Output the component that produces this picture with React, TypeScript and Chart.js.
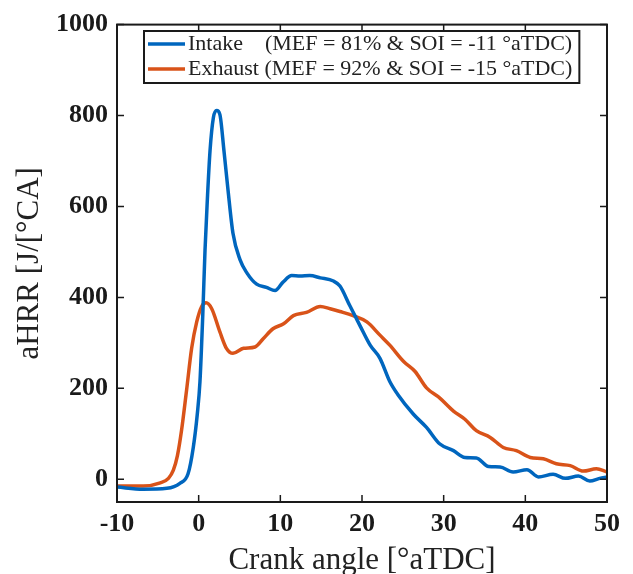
import { useEffect, useRef } from 'react';
import { Chart, registerables } from 'chart.js';

Chart.register(...registerables);

const SERIES_NAMES = [
  'Intake    (MEF = 81% & SOI = -11 °aTDC)',
  'Exhaust (MEF = 92% & SOI = -15 °aTDC)',
];
const SERIES_COLORS = ['#0066BE', '#D95319'];

const INTAKE_X = [-10, -6.8, -3.9, -2.3, -1.3, -0.66, -0.17, 0.16, 0.5, 0.78, 1.06, 1.39, 1.8, 2.2, 2.6, 3.1, 3.6, 4.2, 5.06, 5.9, 7.1, 8.3, 9.35, 10.3, 11.4, 12.4, 13.6, 14.9, 16.5, 17.3, 18.5, 19.75, 21.0, 22.2, 23.4, 24.4, 26.3, 27.9, 29.5, 31.2, 32.6, 34.0, 35.5, 36.9, 38.5, 40.2, 41.6, 43.4, 44.9, 46.5, 47.9, 49.1, 50];
const INTAKE_Y = [-17, -22, -20, -9, 12, 70, 143, 215, 360, 505, 614, 722, 795, 811, 802, 722, 635, 541, 483, 454, 429, 422, 415, 433, 448, 447, 448, 443, 436, 425, 382, 338, 295, 266, 215, 186, 143, 114, 78, 63, 48, 47, 28, 27, 16, 21, 5, 11, 2, 7, -4, 2, 5];

const EXHAUST_X = [-10, -6.8, -4.7, -3.7, -3.1, -2.6, -2.1, -1.5, -0.86, -0.24, 0.37, 0.9, 1.6, 2.6, 3.4, 4.2, 5.5, 6.9, 7.9, 9.1, 10.4, 11.6, 13.2, 14.9, 16.1, 17.3, 18.9, 20.6, 22.2, 23.4, 25.1, 26.5, 27.9, 29.5, 31.2, 32.6, 34.0, 35.7, 37.3, 38.9, 40.6, 42.2, 43.8, 45.5, 47.1, 48.7, 50];
const EXHAUST_Y = [-15, -15, -8, 2, 20, 52, 107, 193, 288, 346, 380, 388, 375, 324, 288, 277, 288, 291, 309, 331, 342, 360, 367, 380, 375, 369, 360, 346, 317, 295, 259, 237, 201, 179, 150, 132, 107, 92, 70, 63, 48, 45, 34, 30, 18, 23, 16];

const X_TICKS = [-10, 0, 10, 20, 30, 40, 50];
const Y_TICKS = [0, 200, 400, 600, 800, 1000];
const X_RANGE = [-10, 50];
const Y_RANGE = [-50, 1000];
const X_TITLE = 'Crank angle [°aTDC]';
const Y_TITLE = 'aHRR [J/[°CA]';

const FONT = "'Liberation Serif', 'Times New Roman', serif";

const frameAndLegend = {
  id: 'frameAndLegend',
  afterDraw(chart: any) {
    const { ctx, chartArea: a, scales } = chart;
    const xs = scales.x;
    const ys = scales.y;
    ctx.save();
    ctx.strokeStyle = '#1a1a1a';
    ctx.lineWidth = 1.5;
    const tl = 7;
    ctx.beginPath();
    X_TICKS.forEach((v) => {
      const px = xs.getPixelForValue(v);
      ctx.moveTo(px, a.bottom);
      ctx.lineTo(px, a.bottom - tl);
      ctx.moveTo(px, a.top);
      ctx.lineTo(px, a.top + tl);
    });
    Y_TICKS.forEach((v) => {
      const py = ys.getPixelForValue(v);
      ctx.moveTo(a.left, py);
      ctx.lineTo(a.left + tl, py);
      ctx.moveTo(a.right, py);
      ctx.lineTo(a.right - tl, py);
    });
    ctx.stroke();
    ctx.lineWidth = 2;
    ctx.strokeRect(a.left, a.top, a.right - a.left, a.bottom - a.top);

    ctx.font = `22px ${FONT}`;
    const textX = 188;
    const rowsY = [44, 69];
    let maxW = 0;
    SERIES_NAMES.forEach((n) => {
      maxW = Math.max(maxW, ctx.measureText(n).width);
    });
    const boxL = 144;
    const boxR = textX + maxW + 7;
    const boxT = 31;
    const boxB = 83;
    ctx.fillStyle = '#ffffff';
    ctx.fillRect(boxL, boxT, boxR - boxL, boxB - boxT);
    ctx.lineWidth = 2;
    ctx.strokeStyle = '#1a1a1a';
    ctx.strokeRect(boxL, boxT, boxR - boxL, boxB - boxT);
    SERIES_NAMES.forEach((n, i) => {
      ctx.strokeStyle = SERIES_COLORS[i];
      ctx.lineWidth = 3.5;
      ctx.beginPath();
      ctx.moveTo(148, rowsY[i]);
      ctx.lineTo(185, rowsY[i]);
      ctx.stroke();
      ctx.fillStyle = '#222222';
      ctx.textBaseline = 'middle';
      ctx.textAlign = 'left';
      ctx.fillText(n, textX, rowsY[i]);
    });
    ctx.restore();
  },
};

export default function App() {
  const ref = useRef<HTMLCanvasElement | null>(null);
  useEffect(() => {
    if (!ref.current) return;
    const mk = (xa: number[], ya: number[]) => xa.map((x, i) => ({ x, y: ya[i] }));
    const chart = new Chart(ref.current, {
      type: 'line',
      data: {
        datasets: [
          {
            label: SERIES_NAMES[0],
            data: mk(INTAKE_X, INTAKE_Y),
            borderColor: SERIES_COLORS[0],
            borderWidth: 3.5,
            pointRadius: 0,
            cubicInterpolationMode: 'monotone',
            fill: false,
          },
          {
            label: SERIES_NAMES[1],
            data: mk(EXHAUST_X, EXHAUST_Y),
            borderColor: SERIES_COLORS[1],
            borderWidth: 3.5,
            pointRadius: 0,
            cubicInterpolationMode: 'monotone',
            fill: false,
          },
        ],
      },
      options: {
        animation: false,
        responsive: false,
        maintainAspectRatio: false,
        layout: { padding: { top: 18, right: 26, left: 0, bottom: 0 } },
        plugins: { legend: { display: false }, tooltip: { enabled: false } },
        scales: {
          x: {
            type: 'linear',
            min: X_RANGE[0],
            max: X_RANGE[1],
            afterFit: (s: any) => { s.height = 72; },
            afterBuildTicks: (s: any) => { s.ticks = X_TICKS.map((v) => ({ value: v })); },
            grid: { display: false, drawTicks: false },
            border: { display: false },
            ticks: {
              padding: 7,
              color: '#1a1a1a',
              maxRotation: 0,
              autoSkip: false,
              callback: (v: any) => String(v),
              font: { family: FONT, size: 26, weight: 'bold' },
            },
            title: {
              display: true,
              text: X_TITLE,
              color: '#222222',
              font: { family: FONT, size: 31, lineHeight: 1 },
              padding: { top: 0, bottom: -2 },
            },
          },
          y: {
            type: 'linear',
            min: Y_RANGE[0],
            max: Y_RANGE[1],
            afterFit: (s: any) => { s.width = 117; },
            afterBuildTicks: (s: any) => { s.ticks = Y_TICKS.map((v) => ({ value: v })); },
            grid: { display: false, drawTicks: false },
            border: { display: false },
            ticks: {
              padding: 9,
              color: '#1a1a1a',
              autoSkip: false,
              callback: (v: any) => String(v),
              font: { family: FONT, size: 26, weight: 'bold' },
            },
            title: {
              display: true,
              text: Y_TITLE,
              color: '#222222',
              font: { family: FONT, size: 31, lineHeight: 1 },
              padding: { top: 14.5, bottom: 0 },
            },
          },
        },
      },
      plugins: [frameAndLegend],
    } as any);
    return () => chart.destroy();
  }, []);
  return (
    <div style={{ position: 'absolute', left: 0, top: 0, width: 633, height: 574, background: '#fff' }}>
      <canvas ref={ref} width={633} height={574} style={{ display: 'block' }} />
    </div>
  );
}
